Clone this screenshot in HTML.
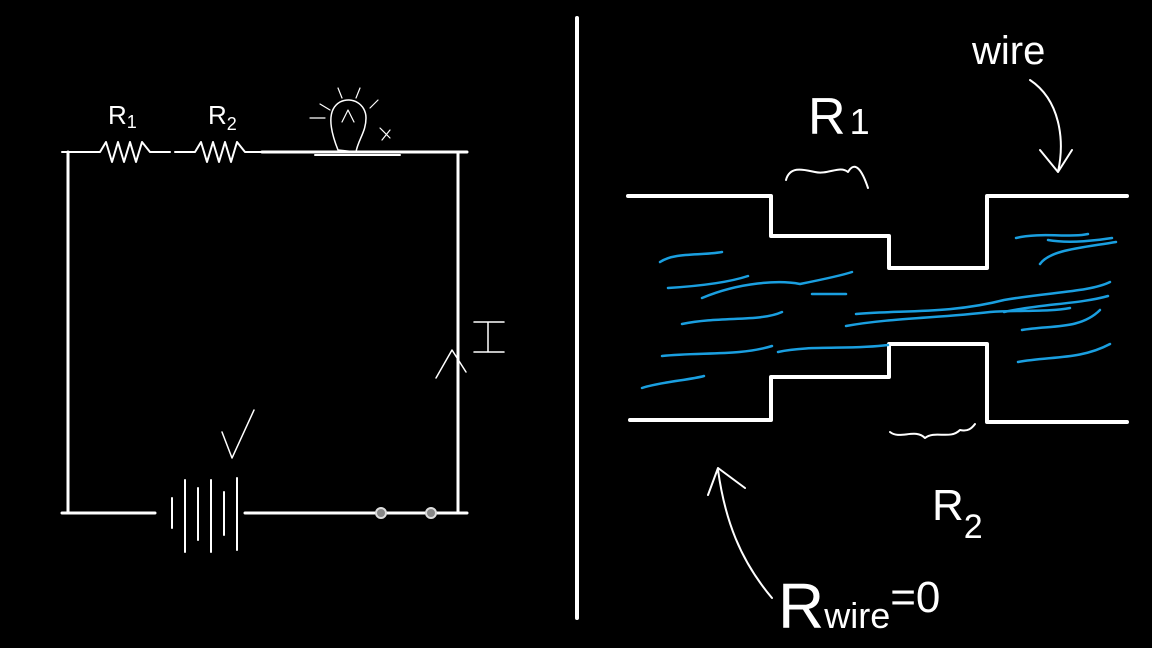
<!DOCTYPE html>
<html><head><meta charset="utf-8"><style>
html,body{margin:0;padding:0;background:#000;}
svg{display:block;}
text{font-family:"Liberation Sans",sans-serif;fill:#fff;font-weight:normal;}
</style></head><body>
<svg width="1152" height="648" viewBox="0 0 1152 648" xmlns="http://www.w3.org/2000/svg">
<rect width="1152" height="648" fill="#000"/>
<g stroke="#fff" fill="none" stroke-linecap="round" stroke-linejoin="round">
<!-- left circuit -->
<path d="M62 152 H100 L106 142 L112 162 L118 142 L124 162 L130 142 L136 162 L142 142 L150 152 H170 M175 152 H195 L201 142 L207 162 L213 142 L219 162 L225 142 L231 162 L237 142 L245 152 H262" stroke-width="2"/>
<path d="M262 152 H467" stroke-width="3"/>
<path d="M68 152 V513" stroke-width="3"/>
<path d="M458 152 V513" stroke-width="3"/>
<path d="M62 513 H155 M245 513 H467" stroke-width="3"/>
<path d="M172 498 V528 M185 480 V552 M198 488 V540 M211 480 V552 M224 492 V535 M237 478 V550" stroke-width="2"/>
<!-- bulb -->
<path d="M338 150 C330 130 326 110 340 102 C352 96 366 104 366 118 C366 132 358 140 356 152 Z" stroke-width="1.5"/>
<path d="M342 122 L348 110 L354 122 M320 104 L330 110 M338 88 L342 98 M360 88 L356 98 M378 100 L370 108 M310 118 L325 118 M380 128 L390 138 M382 140 L390 130" stroke-width="1.2"/>
<path d="M315 155 H400" stroke-width="2"/>
<!-- V, I -->
<path d="M222 432 L232 458 L254 410" stroke-width="1.5"/>
<path d="M436 378 L452 350 L466 372 M474 322 H504 M488 322 V352 M474 352 H504" stroke-width="1.5"/>
<!-- divider -->
<path d="M577 18 V618" stroke-width="4"/>
<!-- pipe -->
<path d="M628 196 H771 V236 H889 V268 H987 V196 H1127" stroke-width="4"/>
<path d="M630 420 H771 V377 H889 V344 H987 V422 H1127" stroke-width="4"/>
<!-- brace R1 -->
<path d="M786 180 C790 165 805 170 815 172 C828 175 840 165 848 172 C855 160 862 170 868 188" stroke-width="2"/>
<!-- brace R2 -->
<path d="M890 432 C900 440 915 428 925 438 C935 430 950 440 960 430 C968 432 972 428 975 424" stroke-width="2"/>
<!-- wire arrow -->
<path d="M1030 80 C1060 100 1065 140 1058 172 M1040 150 L1058 172 L1072 150" stroke-width="2"/>
<!-- Rwire arrow -->
<path d="M772 598 C740 560 725 520 718 470 M708 495 L718 468 L745 488" stroke-width="2"/>
</g>
<circle cx="381" cy="513" r="5" fill="#888" stroke="#ddd" stroke-width="2"/>
<circle cx="431" cy="513" r="5" fill="#888" stroke="#ddd" stroke-width="2"/>
<!-- blue flow lines -->
<g stroke="#1a9fe0" stroke-width="2.5" fill="none" stroke-linecap="round">
<path d="M660 262 C675 252 700 256 722 252"/>
<path d="M668 288 C700 286 730 282 748 276"/>
<path d="M702 298 C740 282 780 280 800 284 C820 280 840 276 852 272"/>
<path d="M812 294 H846"/>
<path d="M682 324 C720 316 760 322 782 312"/>
<path d="M662 356 C700 352 740 356 772 346"/>
<path d="M642 388 C660 382 690 380 704 376"/>
<path d="M778 352 C810 345 850 350 888 345"/>
<path d="M846 326 C890 318 940 318 990 312 C1020 310 1050 312 1070 308"/>
<path d="M856 314 C900 310 950 314 1004 300 C1050 292 1090 292 1110 282"/>
<path d="M1016 238 C1040 232 1070 238 1088 234"/>
<path d="M1040 264 C1050 250 1080 248 1116 242"/>
<path d="M1048 240 C1070 244 1100 240 1112 238"/>
<path d="M1022 330 C1050 325 1080 330 1100 310"/>
<path d="M1004 312 C1040 304 1080 304 1108 296"/>
<path d="M1018 362 C1050 356 1080 360 1110 344"/>
</g>
<text x="108" y="124" font-size="26">R<tspan font-size="18" dy="4">1</tspan></text>
<text x="208" y="124" font-size="26">R<tspan font-size="18" dy="6">2</tspan></text>
<text x="808" y="134" font-size="52">R<tspan font-size="36" dx="4">1</tspan></text>
<text x="972" y="64" font-size="40">wire</text>
<text x="932" y="520" font-size="44">R<tspan font-size="34" dy="18">2</tspan></text>
<text x="778" y="628" font-size="64">R<tspan font-size="36">wire</tspan><tspan font-size="44" dy="-16">=0</tspan></text>
</svg>
</body></html>
